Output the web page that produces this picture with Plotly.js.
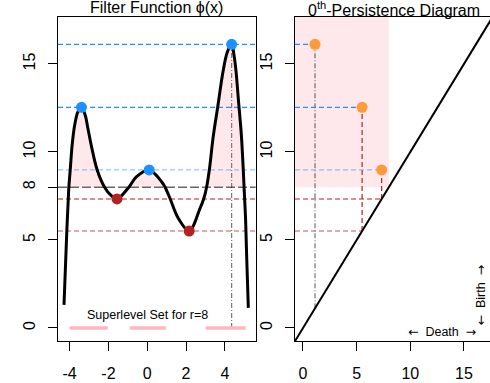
<!DOCTYPE html>
<html><head><meta charset="utf-8">
<script src="https://cdn.plot.ly/plotly-3.0.1.min.js"></script>
<style>html,body{margin:0;padding:0;overflow:hidden;background:#fff}#plot{width:490px;height:383px}</style>
</head><body><div id="plot"></div>
<script>
// Filter function samples
const curveX = [-4.29,-4.14,-4.07,-4.04,-3.97,-3.87,-3.74,-3.57,-3.39,-3.20,-3.06,-2.89,-2.58,-2.20,-1.89,-1.56,-0.95,-0.55,0.10,0.74,0.92,1.17,1.60,2.16,2.72,2.89,3.06,3.20,3.40,3.63,3.92,4.13,4.35,4.47,4.57,4.70,4.85,4.95,4.99,5.07,5.13,5.21];
const curveY = [1.31,5.66,7.33,8.00,8.98,10.40,11.53,12.29,12.54,12.10,11.35,10.40,8.98,8.00,7.56,7.33,8.00,8.60,8.98,8.31,8.00,7.37,6.23,5.51,6.80,7.27,8.00,8.98,10.87,12.54,14.66,15.68,16.12,15.51,14.66,12.95,10.97,8.98,8.00,6.14,3.86,1.14];
const maxX = [-3.39, 0.10, 4.35];
const maxY = [12.54, 8.98, 16.12];
const minX = [-1.56, 2.16];
const minY = [7.33, 5.51];
const level = 8;
const superStart = [-4.00, -0.89, 3.01];
const superEnd = [-2.04, 0.96, 5.07];
// persistence diagram
const death = [1.12, 5.51, 7.33];
const birth = [16.12, 12.54, 8.98];
const xTicksL = [-4, -2, 0, 2, 4];
const yTicksL = [0, 5, 8, 10, 15];
const xTicksR = [0, 5, 10, 15];
const yTicksR = [0, 5, 10, 15];

const xRangeL = [-4.6, 5.59];
const yRange = [-0.74, 17.67];
const xRangeR = [-0.745, 17.43];

const FONT = 'Liberation Sans, Arial, Helvetica, sans-serif';
const BLUE = '#1E90FF', LBLUE = 'rgba(30,144,255,0.5)', RED = '#B22222', LRED = 'rgba(178,34,34,0.75)';
const GRAY = 'rgba(0,0,0,0.6)', ORANGE = '#FF9A3A';
const PINKFILL = 'rgba(250,100,125,0.15)';

const traces = [];
// superlevel fill regions
let run = [];
const runs = [];
for (let i = 0; i < curveX.length; i++) {
  if (curveY[i] >= level) run.push(i);
  else { if (run.length) runs.push(run); run = []; }
}
if (run.length) runs.push(run);
runs.forEach(r => {
  traces.push({x: r.map(i => curveX[i]), y: r.map(i => curveY[i]), xaxis: 'x', yaxis: 'y',
    mode: 'lines', fill: 'toself', fillcolor: PINKFILL, line: {width: 0, shape: 'spline'}, hoverinfo: 'skip', showlegend: false});
});
// pink segments at y=0
const sx = [], sy = [];
superStart.forEach((a, i) => { sx.push(a, superEnd[i], null); sy.push(0, 0, null); });
traces.push({x: sx, y: sy, mode: 'lines', line: {color: '#FFB6C1', width: 3.5}, xaxis: 'x', yaxis: 'y', showlegend: false});
// curve
traces.push({x: curveX, y: curveY, mode: 'lines', line: {color: '#000', width: 3, shape: 'spline'}, xaxis: 'x', yaxis: 'y', showlegend: false});
// extrema
traces.push({x: maxX, y: maxY, mode: 'markers', marker: {color: BLUE, size: 11}, xaxis: 'x', yaxis: 'y', showlegend: false});
traces.push({x: minX, y: minY, mode: 'markers', marker: {color: RED, size: 11}, xaxis: 'x', yaxis: 'y', showlegend: false});
// diagonal
traces.push({x: [xRangeR[0], yRange[1]], y: [xRangeR[0], yRange[1]], mode: 'lines', line: {color: '#000', width: 2}, xaxis: 'x2', yaxis: 'y2', showlegend: false});
// persistence points
traces.push({x: death, y: birth, mode: 'markers', marker: {color: ORANGE, size: 11}, xaxis: 'x2', yaxis: 'y2', showlegend: false});

const shapes = [];
function hline(y, color, dash, w) {
  shapes.push({type: 'line', xref: 'x domain', yref: 'y', x0: 0, x1: 1, y0: y, y1: y, layer: 'below', line: {color: color, dash: dash, width: w || 1.2}});
}
const maxColors = [BLUE, LBLUE, BLUE];
maxY.forEach((y, i) => hline(y, maxColors[i], '5px,3px'));
hline(level, GRAY, '9px,3px', 1.5);
hline(minY[0], RED, '5px,3px');
hline(minY[1], LRED, '5px,3px');
shapes.push({type: 'line', xref: 'x', yref: 'y', x0: maxX[2], x1: maxX[2], y0: 0, y1: maxY[2], layer: 'below', line: {color: 'rgba(0,0,0,0.55)', dash: '5px,2px,1px,2px', width: 1.2}});
// right panel
shapes.push({type: 'rect', xref: 'x2', yref: 'y2', x0: xRangeR[0], x1: level, y0: level, y1: yRange[1], layer: 'below', fillcolor: 'rgba(250,100,125,0.15)', line: {width: 0}});
const persColors = [BLUE, BLUE, LBLUE];
death.forEach((d, i) => {
  shapes.push({type: 'line', xref: 'x2', yref: 'y2', x0: xRangeR[0], x1: d, y0: birth[i], y1: birth[i], layer: 'below', line: {color: persColors[i], dash: '5px,3px', width: 1.2}});
  shapes.push({type: 'line', xref: 'x2', yref: 'y2', x0: d, x1: d, y0: d, y1: birth[i], layer: 'below',
    line: i === 0 ? {color: 'rgba(0,0,0,0.55)', dash: '5px,2px,1px,2px', width: 1.2} : {color: RED, dash: '5px,3px', width: 1.2}});
});
minY.forEach((m, i) => {
  shapes.push({type: 'line', xref: 'x2', yref: 'y2', x0: xRangeR[0], x1: m, y0: m, y1: m, layer: 'below', line: {color: i === 0 ? RED : LRED, dash: '5px,3px', width: 1.2}});
});

const axBase = {showgrid: false, zeroline: false, showline: true, linecolor: '#000', linewidth: 1, ticks: 'outside', ticklen: 9, tickcolor: '#000', tickfont: {family: FONT, size: 16, color: '#000'}};

const ARW = '<span style="font-family:DejaVu Sans">';
const layout = {
  width: 490, height: 383,
  margin: {l: 0, r: 0, t: 17, b: 42},
  paper_bgcolor: '#fff', plot_bgcolor: '#fff',
  showlegend: false,
  xaxis: Object.assign({}, axBase, {domain: [58/490, 255.7/490], range: xRangeL, tickvals: xTicksL, ticktext: xTicksL.map(String), mirror: true, ticklabelstandoff: 9, anchor: 'y'}),
  yaxis: Object.assign({}, axBase, {domain: [0, 1], range: yRange, tickvals: yTicksL, ticktext: yTicksL.map(String), mirror: true, tickangle: -90, ticklabelstandoff: 7, anchor: 'x'}),
  xaxis2: Object.assign({}, axBase, {domain: [295/490, 1], range: xRangeR, tickvals: xTicksR, ticktext: xTicksR.map(String), mirror: true, ticklabelstandoff: 9, anchor: 'y2'}),
  yaxis2: Object.assign({}, axBase, {domain: [0, 1], range: yRange, tickvals: yTicksR, ticktext: yTicksR.map(String), mirror: false, tickangle: -90, ticklabelstandoff: 7, anchor: 'x2'}),
  shapes: shapes,
  annotations: [
    {xref: 'paper', yref: 'paper', x: (58 + 255.7) / 2 / 490, y: 1, xanchor: 'center', yanchor: 'bottom', yshift: -1, showarrow: false, text: 'Filter Function ϕ(x)', font: {family: FONT, size: 16, color: '#000'}},
    {xref: 'paper', yref: 'paper', x: (295 + 492) / 2 / 490, y: 1, xanchor: 'center', yanchor: 'bottom', yshift: -4, showarrow: false, text: '0<sup>th</sup>-Persistence Diagram', font: {family: FONT, size: 16, color: '#000'}},
    {xref: 'x', yref: 'y', x: 0, y: 0.75, showarrow: false, text: 'Superlevel Set for r=' + level, font: {family: FONT, size: 12.5, color: '#000'}},
    {xref: 'x2', yref: 'y2', x: 13.0, y: -0.21, showarrow: false, text: ARW + '←</span>&nbsp; Death &nbsp;' + ARW + '→</span>', font: {family: FONT, size: 12.5, color: '#000'}},
    {xref: 'x2', yref: 'y2', x: 16.5, y: 1.85, showarrow: false, textangle: -90, text: ARW + '←</span>&nbsp; Birth &nbsp;' + ARW + '→</span>', font: {family: FONT, size: 12.5, color: '#000'}}
  ]
};
Plotly.newPlot('plot', traces, layout, {staticPlot: true, displayModeBar: false});
</script></body></html>
